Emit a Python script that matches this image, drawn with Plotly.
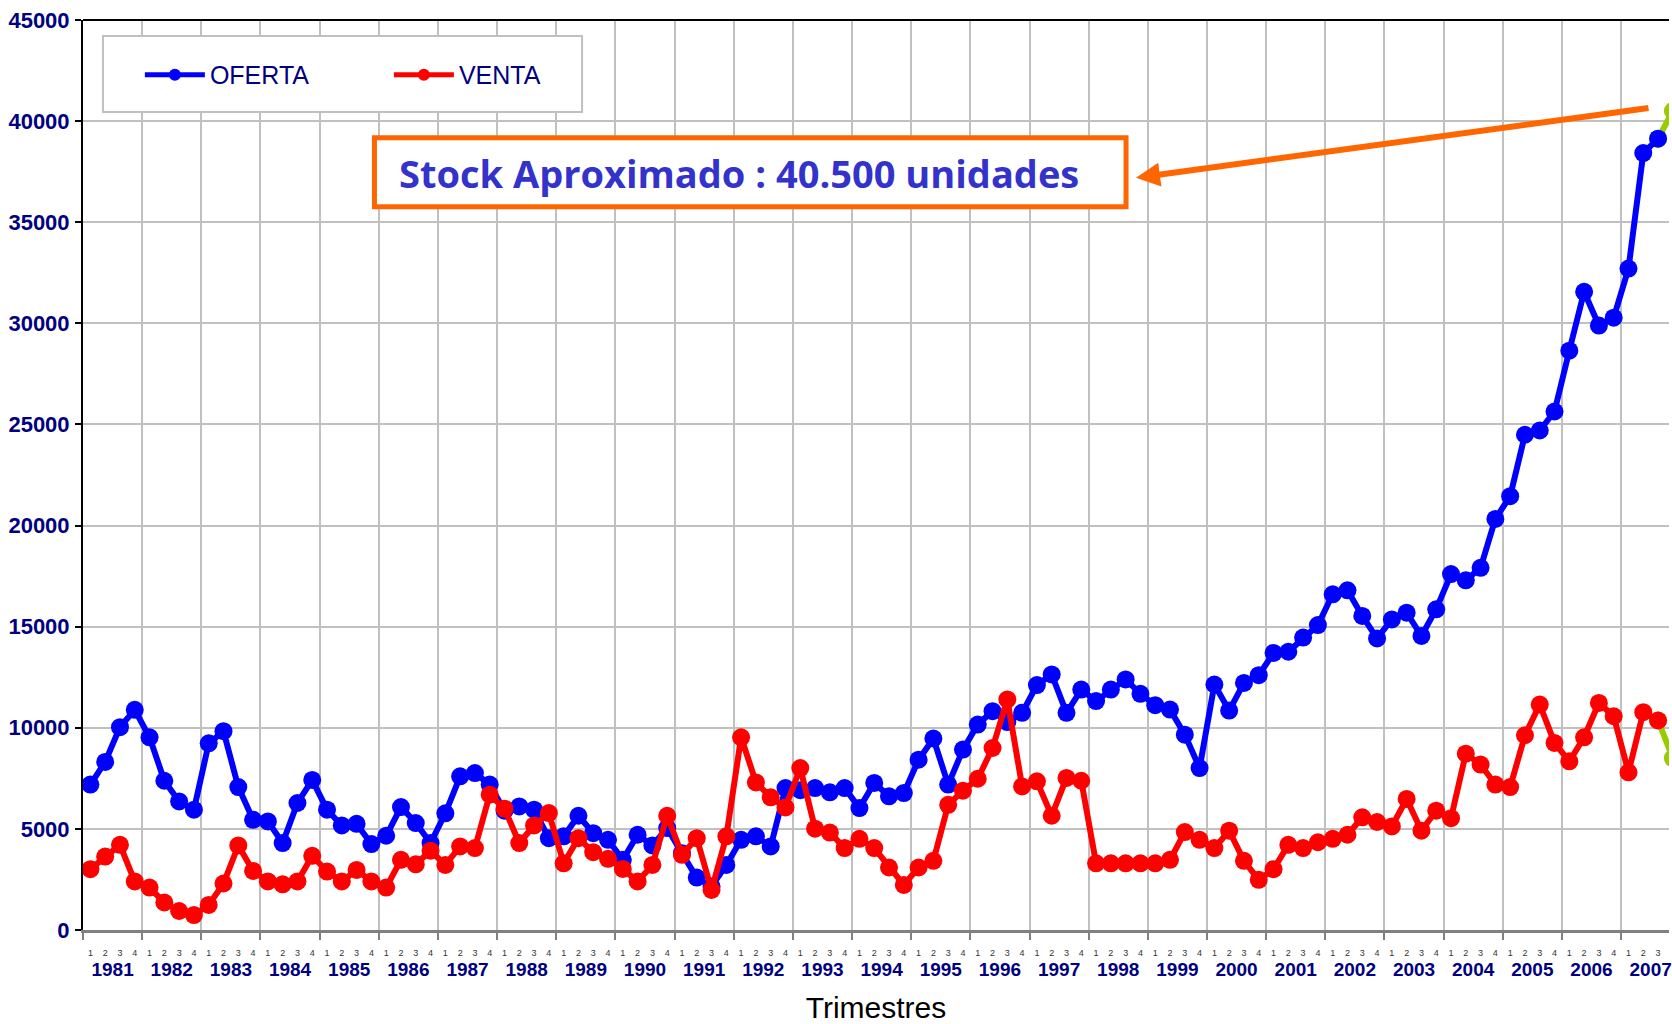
import plotly.graph_objects as go

# ---------------- data ----------------
years = list(range(1981, 2008))
quarter_names = ["1", "2", "3", "4"]

oferta = [
    7190, 8310, 10030, 10890,   # 1981
    9530, 7380, 6360, 5950,     # 1982
    9230, 9830, 7070, 5450,     # 1983
    5370, 4300, 6280, 7420,     # 1984
    5950, 5170, 5250, 4250,     # 1985
    4660, 6080, 5290, 4300,     # 1986
    5770, 7600, 7760, 7190,     # 1987
    5900, 6110, 5950, 4540,     # 1988
    4630, 5650, 4790, 4460,     # 1989
    3470, 4710, 4180, 5040,     # 1990
    3800, 2590, 2150, 3220,     # 1991
    4460, 4630, 4130, 7020,     # 1992
    6910, 7020, 6810, 7020,     # 1993
    6030, 7270, 6610, 6770,     # 1994
    8420, 9470, 7190, 8920,     # 1995
    10160, 10820, 10280, 10740, # 1996
    12110, 12640, 10740, 11890, # 1997
    11320, 11890, 12390, 11680, # 1998
    11120, 10900, 9660, 8010,   # 1999
    12140, 10850, 12220, 12600, # 2000
    13700, 13760, 14460, 15080, # 2001
    16600, 16800, 15530, 14420, # 2002
    15360, 15690, 14540, 15860, # 2003
    17600, 17290, 17910, 20330, # 2004
    21450, 24490, 24700, 25640, # 2005
    28650, 31560, 29890, 30280, # 2006
    32710, 38420, 39130,        # 2007
]

venta = [
    3010, 3630, 4210, 2400,     # 1981
    2100, 1360, 940, 740,       # 1982
    1240, 2300, 4180, 2920,     # 1983
    2400, 2260, 2400, 3670,     # 1984
    2890, 2400, 2970, 2400,     # 1985
    2100, 3470, 3250, 3920,     # 1986
    3220, 4130, 4050, 6690,     # 1987
    6000, 4300, 5170, 5780,     # 1988
    3300, 4540, 3850, 3520,     # 1989
    3020, 2400, 3220, 5650,     # 1990
    3720, 4540, 1980, 4630,     # 1991
    9530, 7300, 6560, 6060,     # 1992
    8010, 5010, 4820, 4050,     # 1993
    4510, 4050, 3090, 2230,     # 1994
    3090, 3420, 6190, 6890,     # 1995
    7480, 9000, 11400, 7100,    # 1996
    7350, 5650, 7520, 7380,     # 1997
    3300, 3300, 3300, 3300,     # 1998
    3300, 3470, 4840, 4460,     # 1999
    4050, 4910, 3420, 2480,     # 2000
    3010, 4210, 4050, 4340,     # 2001
    4510, 4710, 5570, 5340,     # 2002
    5120, 6480, 4910, 5900,     # 2003
    5530, 8720, 8180, 7190,     # 2004
    7070, 9630, 11150, 9250,    # 2005
    8340, 9530, 11230, 10570,   # 2006
    7800, 10770, 10360,         # 2007
]

# estimated 2007 Q4 values (green segment)
oferta_est_q4 = 40500
venta_est_q4 = 8500

annotation_text = "Stock Aproximado : 40.500 unidades"
y_ticks = list(range(0, 45001, 5000))

# ---------------- positions ----------------
n = len(oferta)
idx = list(range(n))
n_slots = len(years) * 4
quarter_ticks = list(range(n_slots))
quarter_text = [quarter_names[i % 4] for i in quarter_ticks]
year_centers = [4 * k + 1.5 for k in range(len(years))]
year_text = [str(y) for y in years]

BLUE = "#0000FF"
RED = "#FF0000"
GREEN = "#99CC00"
ORANGE = "#FF6600"
NAVY = "#000080"
GRID = "#C0C0C0"
ARIAL = "Liberation Sans, Arial, sans-serif"
XRANGE = [-0.5, 106.74]

fig = go.Figure()

# green estimated segments (base axis, drawn under the main series)
fig.add_trace(go.Scatter(
    x=[idx[-1], idx[-1] + 1], y=[oferta[-1], oferta_est_q4],
    mode="lines+markers", line=dict(color=GREEN, width=6),
    marker=dict(color=GREEN, size=18), showlegend=False, hoverinfo="skip"))
fig.add_trace(go.Scatter(
    x=[idx[-1], idx[-1] + 1], y=[venta[-1], venta_est_q4],
    mode="lines+markers", line=dict(color=GREEN, width=6),
    marker=dict(color=GREEN, size=18), showlegend=False, hoverinfo="skip"))

# main series on the overlaying axis that carries the year labels
fig.add_trace(go.Scatter(
    x=idx, y=oferta, name="OFERTA", mode="lines+markers", xaxis="x2",
    line=dict(color=BLUE, width=6), marker=dict(color=BLUE, size=18)))
fig.add_trace(go.Scatter(
    x=idx, y=venta, name="VENTA", mode="lines+markers", xaxis="x2",
    line=dict(color=RED, width=6), marker=dict(color=RED, size=18)))

# plot area geometry (px)
L, T, R, B = 83, 20, 1672, 931
W, H = 1672, 1024
PW, PH = R - L, B - T


def px(xp):
    return (xp - L) / PW


def py(yp):
    return (B - yp) / PH


shapes = [
    dict(type="line", xref="paper", yref="paper", x0=0, x1=1, y0=1, y1=1,
         line=dict(color="black", width=2), layer="above"),
    dict(type="rect", xref="paper", yref="paper",
         x0=px(103), x1=px(583), y0=py(112), y1=py(36),
         fillcolor="white", line=dict(color=GRID, width=2), layer="above"),
    dict(type="rect", xref="paper", yref="paper",
         x0=px(375), x1=px(1128), y0=py(207), y1=py(138),
         fillcolor="white", line=dict(color=ORANGE, width=5), layer="above"),
]

annotations = [
    dict(xref="paper", yref="paper", x=px(740), y=py(173),
         text=annotation_text, showarrow=False, xanchor="center", yanchor="middle",
         font=dict(family="Open Sans, sans-serif", size=38, color="#3333CC", weight="bold")),
    dict(xref="paper", yref="paper", x=px(1138), y=py(178), text="",
         showarrow=True, axref="pixel", ayref="pixel", ax=1652 - 1138, ay=108 - 178,
         arrowcolor=ORANGE, arrowwidth=6, arrowhead=2, arrowsize=0.8, standoff=0),
]

fig.update_layout(
    width=W, height=H,
    margin=dict(l=L, r=W - R, t=T, b=H - B, pad=0),
    paper_bgcolor="white", plot_bgcolor="white",
    font=dict(family=ARIAL),
    shapes=shapes, annotations=annotations,
    legend=dict(orientation="h", x=px(140), y=py(52), xanchor="left", yanchor="top",
                bgcolor="rgba(0,0,0,0)", borderwidth=0,
                font=dict(family=ARIAL, size=25, color=NAVY),
                itemwidth=60, itemsizing="constant", entrywidth=174),
    xaxis=dict(
        range=XRANGE, tickmode="array", tickvals=quarter_ticks, ticktext=quarter_text,
        showgrid=False, ticks="", zeroline=False,
        tickfont=dict(family=ARIAL, size=9, color="#333333"), ticklabelstandoff=12,
        showline=True, linecolor="#808080", linewidth=3,
        minor=dict(tick0=-0.5, dtick=4, showgrid=True, gridcolor=GRID, gridwidth=2,
                   ticks="outside", ticklen=7, tickcolor="#808080", tickwidth=2),
        title=dict(text="Trimestres", font=dict(family=ARIAL, size=30, color="black"), standoff=45),
    ),
    xaxis2=dict(
        overlaying="x", anchor="y", side="bottom", range=XRANGE,
        tickmode="array", tickvals=year_centers, ticktext=year_text,
        showgrid=False, ticks="", zeroline=False, showline=False, ticklabeloverflow="allow",
        tickfont=dict(family=ARIAL, size=19, color=NAVY, weight="bold"), ticklabelstandoff=26,
    ),
    yaxis=dict(
        range=[0, 45000], tickmode="array", tickvals=y_ticks, ticktext=[str(v) for v in y_ticks],
        showgrid=True, gridcolor=GRID, gridwidth=2, zeroline=False,
        showline=True, linecolor="black", linewidth=2,
        ticks="outside", ticklen=6, tickcolor="black", tickwidth=2,
        tickfont=dict(family=ARIAL, size=22, color=NAVY, weight="bold"), ticklabelstandoff=1,
    ),
)

fig.write_html("out.html", config={"displayModeBar": False},
               post_script="document.body.style.margin='0';document.body.style.overflow='hidden';")
